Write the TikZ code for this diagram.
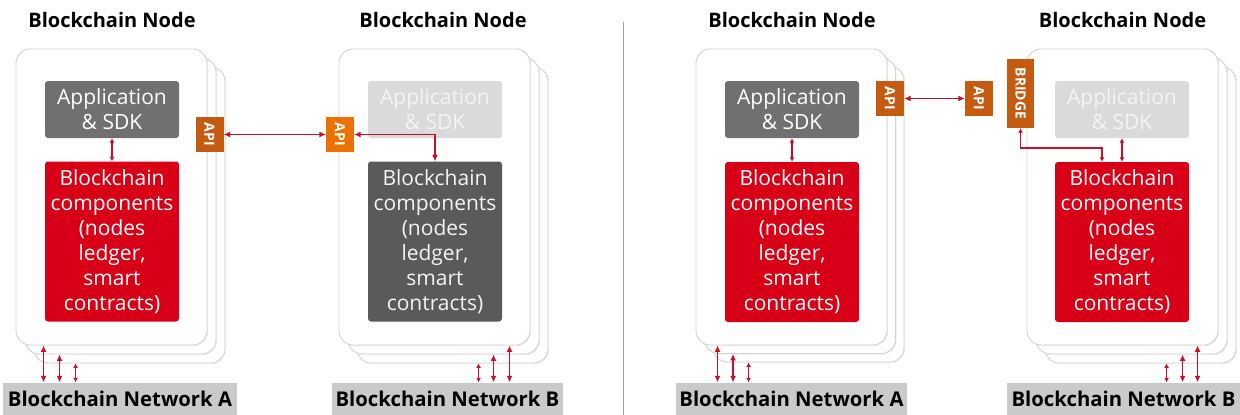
\documentclass[tikz,border=0pt]{standalone}
\usepackage{fontspec}
\setmainfont{Open Sans}
\usetikzlibrary{arrows.meta,calc,shadows}

\definecolor{cardline}{RGB}{210,210,210}
\definecolor{appgray}{RGB}{112,112,112}
\definecolor{lightgray}{RGB}{218,218,218}
\definecolor{lighttext}{RGB}{244,244,244}
\definecolor{coregray}{RGB}{90,90,90}
\definecolor{corered}{RGB}{216,0,22}
\definecolor{apibrown}{RGB}{197,90,17}
\definecolor{apiorange}{RGB}{236,114,0}
\definecolor{netgray}{RGB}{202,202,202}
\definecolor{linkred}{RGB}{200,16,40}
\definecolor{divider}{RGB}{160,160,160}

\newcommand{\vtext}[1]{\rotatebox{-90}{#1}}

\tikzset{
  card/.style={draw=cardline, line width=0.9pt, fill=white, rounded corners=14pt,
    minimum width=191pt, minimum height=296pt, inner sep=0pt,
    drop shadow={shadow xshift=1pt, shadow yshift=-1pt, opacity=0.12}},
  inner/.style={rounded corners=3pt, minimum width=134pt, inner sep=0pt,
    align=center, font=\fontsize{21}{25}\selectfont},
  appbox/.style={inner, fill=appgray, text=white, minimum height=57pt},
  appfaded/.style={inner, fill=lightgray, text=lighttext, minimum height=57pt},
  corebox/.style={inner, fill=corered, text=white, minimum height=160pt},
  coredark/.style={inner, fill=coregray, text=lighttext, minimum height=160pt},
  tag/.style={text=white, inner sep=0pt, font=\bfseries\fontsize{14}{14}\selectfont},
  apibox/.style={tag, fill=apibrown, minimum width=28pt, minimum height=35pt},
  apibright/.style={tag, fill=apiorange, minimum width=28pt, minimum height=35pt},
  bridgebox/.style={tag, fill=apibrown, minimum width=27pt, minimum height=69pt},
  title/.style={font=\bfseries\fontsize{20}{22}\selectfont, inner sep=0pt},
  network/.style={fill=netgray, minimum height=33pt, inner sep=0pt,
    font=\bfseries\fontsize{20.3}{22}\selectfont},
  link/.style={draw=linkred, line width=1.2pt,
    {Latex[length=6.5pt,width=6pt]}-{Latex[length=6.5pt,width=6pt]}},
  shortlink/.style={draw=linkred, line width=1.1pt,
    {Latex[length=4.5pt,width=5pt]}-{Latex[length=4.5pt,width=5pt]}},
}

\begin{document}
\begin{tikzpicture}[x=1pt,y=-1pt]
\useasboundingbox (0,0) rectangle (1240,415);

% ---------- left half: two chains joined through their APIs ----------
\node[title] (t1) at (112,20) {Blockchain Node};
\node[title] (t2) at (443,20) {Blockchain Node};

% stacked node cards, back to front
\node[card] (c1c) at (129.5,215) {};
\node[card] (c1b) at (120.5,206) {};
\node[card] (c1a) at (111.5,197) {};
\node[card] (c2c) at (452.5,215) {};
\node[card] (c2b) at (443.5,206) {};
\node[card] (c2a) at (434.5,197) {};

\node[appbox]  (app1)  at (112,109.5) {Application\\\& SDK};
\node[corebox] (core1) at (112,241.5) {Blockchain\\components\\(nodes\\ledger,\\smart\\contracts)};
\node[apibox]  (api1)  at (209.5,134.5) {\vtext{API}};

\node[appfaded] (app2)  at (435,109.5) {Application\\\& SDK};
\node[coredark] (core2) at (435,241.5) {Blockchain\\components\\(nodes\\ledger,\\smart\\contracts)};
\node[apibright] (api2) at (340,134.5) {\vtext{API}};

\node[network, minimum width=234pt] (netA1) at (120,399) {Blockchain Network A};
\node[network, minimum width=231pt] (netB2) at (447.5,399) {Blockchain Network B};

\draw[shortlink] (app1.south) -- (core1.north);
\draw[link] (api1.east) -- (api2.west);
\draw[link] (api2.east) -| (core2.north);

\path (c1a.south west) ++(28,0) coordinate (a1) (c1b.south west) ++(35,0) coordinate (a2)
      (c1c.south west) ++(42,0) coordinate (a3);
\draw[link] (a1) -- (a1 |- netA1.north);
\draw[link] (a2) -- (a2 |- netA1.north);
\draw[shortlink] (a3) -- (a3 |- netA1.north);

\path (c2a.south west) ++(171,0) coordinate (b1) (c2b.south west) ++(146,0) coordinate (b2)
      (c2c.south west) ++(122,0) coordinate (b3);
\draw[link] (b1) -- (b1 |- netB2.north);
\draw[link] (b2) -- (b2 |- netB2.north);
\draw[shortlink] (b3) -- (b3 |- netB2.north);

% ---------- divider ----------
\coordinate (dtop) at (623,22);
\coordinate (dbot) at (623,415);
\draw[divider, line width=1pt] (dtop) -- (dbot);

% ---------- right half: API on one side, bridge on the other ----------
\node[title] (t3) at (792,20) {Blockchain Node};
\node[title] (t4) at (1122.5,20) {Blockchain Node};

\node[card] (c3c) at (808.5,214) {};
\node[card] (c3b) at (800,205.5) {};
\node[card] (c3a) at (791.5,197) {};
\node[card] (c4c) at (1140.5,215) {};
\node[card] (c4b) at (1131.5,206) {};
\node[card] (c4a) at (1122.5,197) {};

\node[appbox]  (app3)  at (792,109.5) {Application\\\& SDK};
\node[corebox] (core3) at (792,242) {Blockchain\\components\\(nodes\\ledger,\\smart\\contracts)};
\node[apibox]  (api3)  at (890,98.5) {\vtext{API}};

\node[appfaded] (app4)  at (1122,109.5) {Application\\\& SDK};
\node[corebox]  (core4) at (1122,242) {Blockchain\\components\\(nodes\\ledger,\\smart\\contracts)};
\node[apibox]   (api4)  at (979,98.5) {\vtext{API}};
\node[bridgebox] (bridge) at (1020.5,93.5) {\vtext{BRIDGE}};

\node[network, minimum width=231pt] (netA3) at (791.5,399) {Blockchain Network A};
\node[network, minimum width=233pt] (netB4) at (1123.5,399) {Blockchain Network B};

\draw[shortlink] (app3.south) -- (core3.north);
\draw[shortlink] (app4.south) -- (core4.north);
\draw[link] (api3.east) -- (api4.west);
\coordinate (bend) at (1102,148);
\draw[shortlink] (bridge.south) |- (bend) -- (bend |- core4.north);

\path (c3a.south west) ++(22,0) coordinate (d1) (c3b.south west) ++(29,0) coordinate (d2)
      (c3c.south west) ++(36,0) coordinate (d3);
\draw[link] (d1) -- (d1 |- netA3.north);
\draw[link] (d2) -- (d2 |- netA3.north);
\draw[shortlink] (d3) -- (d3 |- netA3.north);

\path (c4a.south west) ++(171,0) coordinate (e1) (c4b.south west) ++(147,0) coordinate (e2)
      (c4c.south west) ++(122,0) coordinate (e3);
\draw[link] (e1) -- (e1 |- netB4.north);
\draw[link] (e2) -- (e2 |- netB4.north);
\draw[shortlink] (e3) -- (e3 |- netB4.north);
\end{tikzpicture}
\end{document}
